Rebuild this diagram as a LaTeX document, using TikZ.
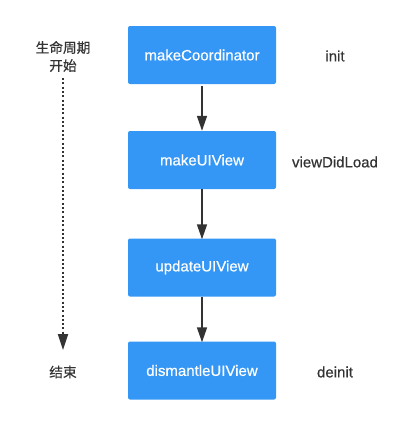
\documentclass[tikz,border=0pt]{standalone}
\usepackage{fontspec}
\setmainfont{Liberation Sans}
\newfontfamily\lsans{Liberation Sans}[FakeBold=0.5]
\newfontfamily\cjk{Noto Sans CJK SC}[FakeBold=0.5]
\usetikzlibrary{arrows.meta}
\definecolor{boxblue}{RGB}{52,150,245}
\definecolor{ink}{RGB}{51,51,51}
\tikzset{
  stepbox/.style={fill=boxblue, draw=none, rounded corners=2pt, minimum width=148pt, minimum height=58pt, inner sep=0pt, text=white, font=\lsans\fontsize{15}{18}\selectfont},
  sidelabel/.style={text=ink, font=\lsans\fontsize{15}{18}\selectfont, inner sep=0pt},
  cjklabel/.style={text=ink, font=\cjk\fontsize{13.7}{18}\selectfont, inner sep=0pt, align=center},
  flow/.style={draw=ink, line width=1.6pt, -{Triangle[length=15pt,width=10pt]}},
  life/.style={draw=ink, line width=1.9pt, dash pattern=on 2pt off 2.3pt, -{Triangle[length=16pt,width=10pt]}}
}
\begin{document}
\begin{tikzpicture}[x=1pt,y=-1pt]
\useasboundingbox (0,0) rectangle (404,426);
\node[stepbox] (a) at (202,55) {makeCoordinator};
\node[stepbox] (b) at (202,160) {makeUIView};
\node[stepbox] (c) at (202,267.5) {updateUIView};
\node[stepbox] (d) at (202,370.5) {dismantleUIView};
\node[sidelabel] (ia) at (335,56) {init};
\node[sidelabel] (ib) at (335,162) {viewDidLoad};
\node[sidelabel] (id) at (335,372) {deinit};
\node[cjklabel] (s) at (63,56.5) {生命周期\\开始};
\node[cjklabel] (e) at (63,372) {结束};
\coordinate (ls) at (63,78);
\coordinate (le) at (63,350);
\draw[flow] (a.south) ++(0,2) -- (b.north);
\draw[flow] (b.south) -- ([yshift=-1pt]c.north);
\draw[flow] (c.south) -- ([yshift=-1pt]d.north);
\draw[life] (ls) -- (le);
\end{tikzpicture}
\end{document}
